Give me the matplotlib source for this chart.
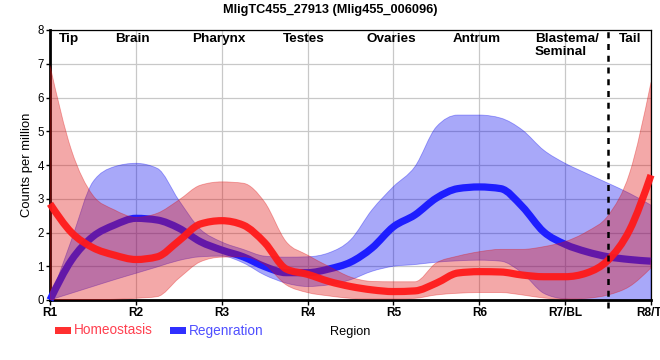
import numpy as np
import matplotlib
matplotlib.use("Agg")
import matplotlib.pyplot as plt
from matplotlib.path import Path
from matplotlib.patches import PathPatch, Rectangle

plt.rcParams['font.family'] = ['Liberation Sans', 'DejaVu Sans']

# ---------------- data ----------------
tick_labels = ["R1", "R2", "R3", "R4", "R5", "R6", "R7/BL", "R8/TI"]
region_names = ["Tip", "Brain", "Pharynx", "Testes", "Ovaries", "Antrum", "Blastema/\nSeminal", "Tail"]
region_pos = [0.22, 0.96, 1.97, 2.95, 3.97, 4.97, 6.02, 6.76]
boundary_pos = 6.5

# sample positions along the body (quarter steps between regions)
sample_pos = [0, 0.25, 0.5, 0.75, 1, 1.25, 1.5, 1.75, 2, 2.25, 2.5, 2.75, 3, 3.25, 3.5,
              3.75, 4, 4.25, 4.5, 4.75, 5, 5.25, 5.5, 5.75, 6, 6.25, 6.5, 6.75, 7]

homeo_mean = [2.85, 2.0, 1.55, 1.33, 1.2, 1.28, 1.75, 2.25, 2.35, 2.22, 1.7, 0.92, 0.76, 0.55, 0.4,
              0.3, 0.25, 0.27, 0.5, 0.8, 0.84, 0.83, 0.74, 0.69, 0.69, 0.8, 1.18, 2.07, 3.7]
homeo_upper = [6.95, 4.44, 3.1, 2.67, 2.45, 2.57, 2.96, 3.4, 3.5, 3.46, 2.9, 1.73, 1.33, 0.99, 0.68,
               0.55, 0.54, 0.54, 1.1, 1.3, 1.43, 1.5, 1.5, 1.58, 1.73, 2.02, 2.5, 3.75, 6.45]
homeo_lower = [0, 0.01, 0.01, 0.02, 0.05, 0.1, 0.64, 1.13, 1.27, 1.28, 1.05, 0.45, 0.22, 0.12, 0.05,
               0.03, 0.03, 0.05, 0.15, 0.2, 0.22, 0.22, 0.15, 0.06, 0.03, 0.05, 0.15, 0.4, 0.95]

regen_mean = [0, 1.18, 1.88, 2.22, 2.42, 2.37, 2.13, 1.73, 1.48, 1.28, 0.99, 0.81, 0.81, 0.92, 1.12,
              1.54, 2.17, 2.52, 3.02, 3.3, 3.35, 3.3, 2.77, 2.02, 1.65, 1.43, 1.28, 1.2, 1.15]
regen_upper = [0, 1.78, 3.5, 3.95, 4.05, 3.9, 2.96, 2.1, 1.72, 1.5, 1.3, 1.27, 1.28, 1.4, 1.78,
               2.67, 3.36, 3.95, 5.13, 5.48, 5.48, 5.39, 5.04, 4.44, 4.05, 3.75, 3.46, 3.16, 2.81]
regen_lower = [0, 0.2, 0.4, 0.6, 0.79, 0.98, 1.17, 1.28, 1.3, 1.1, 0.74, 0.5, 0.4, 0.45, 0.6,
               0.85, 1.0, 1.05, 1.12, 1.16, 1.18, 1.15, 0.8, 0.2, 0.03, 0, 0, 0, 0]

series_names = ["Homeostasis", "Regenration"]


# ---------------- smooth (monotone cubic) bezier paths ----------------
def tangents(x, y):
    x = np.asarray(x, float)
    y = np.asarray(y, float)
    h = np.diff(x)
    s = np.diff(y) / h
    m = np.zeros_like(y)
    for i in range(1, len(y) - 1):
        if s[i - 1] * s[i] <= 0:
            m[i] = 0.0
        else:
            p = (s[i - 1] * h[i] + s[i] * h[i - 1]) / (h[i - 1] + h[i])
            m[i] = np.sign(s[i]) * min(2 * abs(s[i - 1]), 2 * abs(s[i]), abs(p))
    m[0] = (3 * s[0] - m[1]) / 2
    m[-1] = (3 * s[-1] - m[-2]) / 2
    return x, y, m


def segs(x, y, m, reverse=False):
    verts = []
    idx = range(len(x) - 1)
    if not reverse:
        for i in idx:
            h = x[i + 1] - x[i]
            verts += [(x[i] + h / 3, y[i] + m[i] * h / 3),
                      (x[i + 1] - h / 3, y[i + 1] - m[i + 1] * h / 3),
                      (x[i + 1], y[i + 1])]
    else:
        for i in reversed(idx):
            h = x[i + 1] - x[i]
            verts += [(x[i + 1] - h / 3, y[i + 1] - m[i + 1] * h / 3),
                      (x[i] + h / 3, y[i] + m[i] * h / 3),
                      (x[i], y[i])]
    return verts


def line_path(xs, ys):
    x, y, m = tangents(xs, ys)
    verts = [(x[0], y[0])] + segs(x, y, m)
    codes = [Path.MOVETO] + [Path.CURVE4] * (len(verts) - 1)
    return Path(verts, codes)


def band_path(xs, lo, hi):
    x, yu, mu = tangents(xs, hi)
    _, yl, ml = tangents(xs, lo)
    verts = [(x[0], yu[0])] + segs(x, yu, mu)
    codes = [Path.MOVETO] + [Path.CURVE4] * (len(verts) - 1)
    verts.append((x[-1], yl[-1]))
    codes.append(Path.LINETO)
    back = segs(x, yl, ml, reverse=True)
    verts += back
    codes += [Path.CURVE4] * len(back)
    verts.append((x[0], yu[0]))
    codes.append(Path.CLOSEPOLY)
    return Path(verts, codes)


# ---------------- figure ----------------
fig = plt.figure(figsize=(6.6, 3.6), dpi=100)
ax = fig.add_axes([50 / 660, 60 / 360, 601 / 660, 270 / 360])
ax.set_xlim(0, 7)
ax.set_ylim(0, 8)
ax.set_axisbelow(True)
ax.grid(True, color="#c8c8c8", linewidth=0.9)

red = "#e01010"
blue = "#0000f0"

ax.add_patch(PathPatch(band_path(sample_pos, regen_lower, regen_upper),
                       facecolor=blue, alpha=0.34, edgecolor=blue, linewidth=0.6, zorder=2))
ax.add_patch(PathPatch(line_path(sample_pos, regen_mean), fill=False,
                       edgecolor="#1e1eff", linewidth=5.2, capstyle="butt",
                       joinstyle="round", zorder=3, clip_on=False))
ax.add_patch(PathPatch(band_path(sample_pos, homeo_lower, homeo_upper),
                       facecolor=red, alpha=0.36, edgecolor=red, linewidth=0.6, zorder=4))
ax.add_patch(PathPatch(line_path(sample_pos, homeo_mean), fill=False,
                       edgecolor="#ff1a1a", alpha=0.95, linewidth=5.2, capstyle="butt",
                       joinstyle="round", zorder=5, clip_on=False))

ax.plot([boundary_pos, boundary_pos], [-0.25, 8], color="black", linewidth=1.8,
        dashes=(2.4, 2.3), clip_on=False, zorder=6)

for xp, name in zip(region_pos, region_names):
    ax.text(xp, 7.9, name, ha="center", va="top", multialignment="left",
            fontsize=9.7, fontweight="bold", zorder=7, linespacing=1.05)

ax.set_xticks(range(len(tick_labels)))
ax.set_xticklabels(tick_labels, fontsize=8.6, fontweight="bold")
ax.set_yticks(range(0, 9))
ax.set_yticklabels([str(v) for v in range(0, 9)], fontsize=8.3)
ax.tick_params(axis="x", length=3.5, width=1, pad=1.5)
ax.tick_params(axis="y", length=3, width=1, pad=1.5)

for side in ("left", "bottom"):
    ax.spines[side].set_linewidth(2.0)
for side in ("top", "right"):
    ax.spines[side].set_linewidth(0.9)

ax.set_ylabel("Counts per million", fontsize=9.4)
ax.yaxis.set_label_coords(-0.029, 0.5)
ax.set_xlabel("Region", fontsize=9.2)
ax.xaxis.set_label_coords(0.5, -0.095)

fig.text(0.5, 1 - 10.5 / 360, "MligTC455_27913 (Mlig455_006096)", ha="center", va="center",
         fontsize=9.2, fontweight="bold")

# legend
leg_y = 1 - 330.5 / 360
fig.patches.append(Rectangle((55 / 660, 1 - 334 / 360), 15.5 / 660, 7 / 360,
                             transform=fig.transFigure, facecolor="#ff3030", edgecolor="none"))
fig.text(74 / 660, leg_y, series_names[0], color="#ff4050", fontsize=9.8, va="center")
fig.patches.append(Rectangle((170 / 660, 1 - 334 / 360), 15.5 / 660, 7 / 360,
                             transform=fig.transFigure, facecolor="#3030ff", edgecolor="none"))
fig.text(189 / 660, leg_y, series_names[1], color="#5050ff", fontsize=9.8, va="center")

fig.savefig("out.png", dpi=100)
